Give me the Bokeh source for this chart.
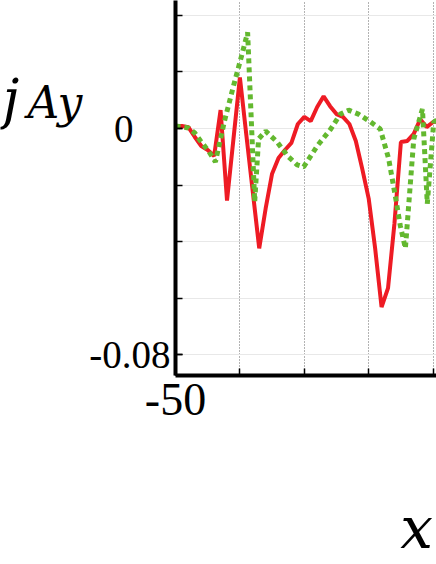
from bokeh.plotting import figure
from bokeh.layouts import row
from bokeh.models import FixedTicker, Range1d
from bokeh.core.properties import value
from bokeh.embed import file_html
from bokeh.resources import INLINE

# ---- data ----
red_x = list(range(-50, -8))
red_y = [0.0009, 0.0009, 0.0005, -0.0030, -0.0062, -0.0076, -0.0097, 0.0065,
         -0.0255, -0.0037, 0.0181, -0.0023, -0.0224, -0.0424, -0.0283, -0.0160,
         -0.0104, -0.0076, -0.0051, 0.0016, 0.0041, 0.0026, 0.0076, 0.0114,
         0.0079, 0.0051, 0.0041, 0.0016, -0.0044, -0.0143, -0.0248, -0.0424,
         -0.0632, -0.0565, -0.0336, -0.0048, -0.0044, -0.0019, 0.0033, 0.0005,
         0.0023, 0.0026]

green_x = [-50, -48, -47, -46.1, -44.9, -43.8, -42.4, -41, -39.6, -38.8,
           -37.7, -37.1, -36, -34.2, -32.6, -31.1, -30.1, -28, -25.9, -24.4,
           -23.1, -21.6, -19.7, -18.2, -16.9, -15.8, -15.1, -14.3, -13.0,
           -11.65, -10.9, -9.9, -9.2]
green_y = [0.0009, 0.0002, -0.0016, -0.0044, -0.0079, -0.0118, 0.0026, 0.0150,
           0.0269, 0.0340, -0.0259, -0.0037, -0.0009, -0.0048, -0.0097, -0.0129,
           -0.0136, -0.0062, -0.0002, 0.0051, 0.0065, 0.0051, 0.0023, -0.0002,
           -0.0107, -0.0248, -0.0343, -0.0424, -0.0037, 0.0069, -0.0266, 0.0023,
           0.0033]

x_major = [-50, 0, 50]
x_minor = [-50, -40, -30, -20, -10]
y_major = [-0.08, 0, 0.08]
y_minor = [-0.08, -0.06, -0.04, -0.02, 0, 0.02, 0.04]

LEFT_W = 85
TOTAL_W = 436
H = 564
FRAME_LEFT = 175
FRAME_BOTTOM = 377

# ---- left strip holding the y-axis title j_Ay ----
lab = figure(width=LEFT_W, height=H, output_backend="svg", toolbar_location=None,
             x_range=Range1d(0, LEFT_W), y_range=Range1d(H, 0),
             x_axis_type=None, y_axis_type=None,
             min_border=0)
lab.outline_line_color = None
lab.xgrid.visible = False
lab.ygrid.visible = False
lab.text(x=[2], y=[149], text=["j"], text_font=value("DejaVu Serif"),
         text_font_style="italic", text_font_size="54px", text_color="black",
         text_baseline="alphabetic", text_align="left")
lab.text(x=[27], y=[154], text=["Ay"], text_font=value("DejaVu Serif"),
         text_font_style="italic", text_font_size="44px", text_color="black",
         text_baseline="alphabetic", text_align="left")

# ---- main plot ----
p = figure(width=TOTAL_W - LEFT_W, height=H, output_backend="svg",
           toolbar_location=None,
           x_range=Range1d(-50, -9.47), y_range=Range1d(-0.0874, 0.0453),
           min_border_left=FRAME_LEFT - LEFT_W, min_border_right=0,
           min_border_top=0, min_border_bottom=H - FRAME_BOTTOM)
p.outline_line_color = None

p.xgrid.ticker = FixedTicker(ticks=x_major, minor_ticks=x_minor)
p.ygrid.ticker = FixedTicker(ticks=y_major, minor_ticks=y_minor)
p.xgrid.grid_line_color = "#666666"
p.xgrid.grid_line_dash = "1 2"
p.xgrid.minor_grid_line_color = "#666666"
p.xgrid.minor_grid_line_dash = "1 2"
p.ygrid.grid_line_color = "#e8e8e8"
p.ygrid.minor_grid_line_color = "#e8e8e8"

for ax in (p.xaxis[0], p.yaxis[0]):
    ax.axis_line_width = 4
    ax.axis_line_color = "black"
    ax.major_tick_in = 7
    ax.major_tick_out = 0
    ax.minor_tick_in = 7
    ax.minor_tick_out = 0
    ax.major_tick_line_width = 1.5
    ax.minor_tick_line_width = 1.5
    ax.major_tick_line_color = "black"
    ax.minor_tick_line_color = "black"
    ax.major_label_text_font = "Liberation Serif"
    ax.major_label_text_color = "black"

p.xaxis.major_label_standoff = 8
p.yaxis.major_label_standoff = 5
p.xaxis.ticker = FixedTicker(ticks=x_major, minor_ticks=x_minor)
p.yaxis.ticker = FixedTicker(ticks=y_major, minor_ticks=y_minor)
p.xaxis.major_label_text_font_size = "46px"
p.yaxis.major_label_text_font_size = "39px"
p.yaxis.major_label_overrides = {0: "0\u00a0\u00a0\u00a0\u2009", -0.08: "-0.08"}
p.xaxis.major_label_overrides = {-50: "-50"}

# x title, pushed to the right with non-breaking spaces
p.xaxis.axis_label = "\u00a0" * 12 + "x"
p.xaxis.axis_label_text_font = "DejaVu Serif"
p.xaxis.axis_label_text_font_style = "italic"
p.xaxis.axis_label_text_font_size = "58px"
p.xaxis.axis_label_text_color = "black"
p.xaxis.axis_label_standoff = 76

p.line(red_x, red_y, line_color="#ee1b24", line_width=4)
p.line(green_x, green_y, line_color="#63b82f", line_width=5, line_dash="5 4")

layout = row(lab, p, spacing=0)
open("out.html", "w").write(file_html(layout, INLINE))
